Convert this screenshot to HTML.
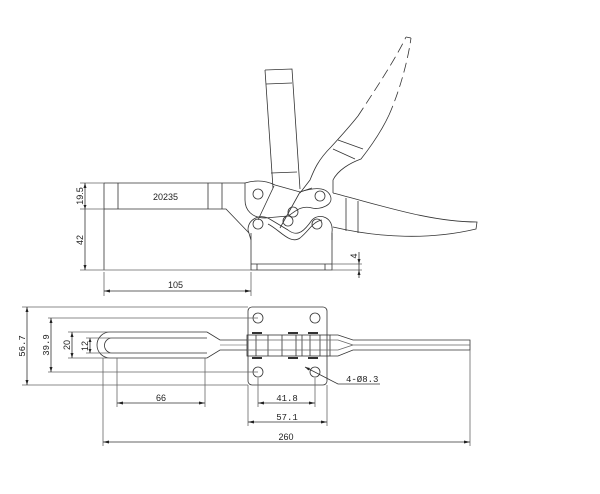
<!DOCTYPE html>
<html><head><meta charset="utf-8"><style>
html,body{margin:0;padding:0;background:#fff;}
svg{display:block;}
text{font-family:"Liberation Sans",sans-serif;font-size:9px;fill:#222;}
.m{font-family:"Liberation Mono",monospace;}
</style></head><body>
<svg width="600" height="494" viewBox="0 0 600 494" xmlns="http://www.w3.org/2000/svg">
<g fill="none" stroke="#333" stroke-width="0.8">
<!-- ===== TOP (side) VIEW ===== -->
<path d="M104 183 L245 183"/>
<path d="M104 183 L104 270"/>
<path d="M104 209 L226 209 L249 233"/>
<path d="M118 183 L118 209 M208 183 L208 209 M222 183 L222 209"/>
<path d="M251 233 L251 270 L332 270 L332 233"/>
<path d="M251 264 L332 264 M257 264 L257 270 M325 264 L325 270"/>
<!-- vertical handle -->
<path d="M265 70 L292 69 L300 189 M265 70 L273 188"/>
<path d="M266 84 L292 83 M271 173 L297 172"/>
<!-- curved handle -->
<path d="M300 193 L310 180 C314 170 318 160 331 147 C342 135 350 126 358 116"/>
<path d="M358 116 C375 90 395 60 406 37" stroke-dasharray="10 5"/>
<path d="M333 193 L333 180 C338 170 350 163 361 159 C372 145 382 130 389 115"/>
<path d="M389 115 C400 90 408 60 411 38" stroke-dasharray="10 5"/>
<path d="M406 37 L411 38"/>
<path d="M338 140 L363 149 M333 149 L355 159"/>
<!-- lower horizontal handle -->
<path d="M333 193 C380 205 430 222 477 222 L476 229 C430 240 380 238 333 227"/>
<path d="M346 198 L346 231 M358 201 L358 233"/>
<!-- upper link -->
<path d="M245 183 C255 180 265 180 275 185 L300 192 C312 188 325 186 330 195 C335 205 320 210 312 208 C300 205 295 212 288 216 L265 218 C252 218 245 210 245 200 Z"/>
<path d="M300 192 L312 188"/>
<!-- lower link -->
<path d="M248 230 C248 220 258 214 268 218 L288 230 C298 238 305 230 312 220 C320 212 334 218 332 232 L332 240 M248 230 L251 240"/>
<path d="M268 224 C280 230 290 245 300 238 C310 230 312 222 322 220"/>
<path d="M274 186 L258 220 M300 192 L280 228"/>
<circle cx="258" cy="194" r="5"/>
<circle cx="320" cy="196" r="5"/>
<circle cx="258" cy="224" r="5"/>
<circle cx="317" cy="224" r="5"/>
<circle cx="293" cy="212" r="5"/>
<circle cx="288" cy="221" r="5"/>
<!-- dims top -->
<path d="M80 183 L104 183 M80 209 L104 209 M80 270 L251 270" stroke="#666"/>
<path d="M85 183 L85 270"/>
<path d="M104 272 L104 296 M251 272 L251 296" stroke="#666"/>
<path d="M104 291 L251 291"/>
<path d="M332 264 L362 264 M332 270 L362 270" stroke="#666"/>
<path d="M359 252 L359 278"/>

<!-- ===== BOTTOM VIEW ===== -->
<rect x="248" y="307" width="79" height="78" rx="4"/>
<circle cx="258" cy="318" r="5"/>
<circle cx="315" cy="318" r="5"/>
<circle cx="258" cy="372" r="5"/>
<circle cx="315" cy="372" r="5"/>
<path d="M207 332 L110 332 A13 13 0 0 0 110 358 L207 358 L220 350 L247 350"/>
<path d="M207 338 L112 338 A7.5 7.5 0 0 0 112 353 L207 353"/>
<path d="M207 332 L220 340 L247 340"/>
<path d="M220 345 L247 345" stroke="#888"/>
<rect x="247" y="335" width="83" height="21"/>
<path d="M256 335 L256 356 M268 335 L268 356 M282 335 L282 356 M296 335 L296 356 M302 335 L302 356 M310 335 L310 356 M320 335 L320 356"/>
<path d="M247 340 L330 340 M247 350 L330 350" stroke="#666"/>
<path d="M252 333 L262 333 M288 333 L298 333 M308 333 L318 333 M252 358 L262 358 M288 358 L298 358 M308 358 L318 358" stroke-width="2"/>
<path d="M330 335 L338 335 L353 340 L470 340 L470 350 L353 350 L338 356 L330 356"/>
<path d="M330 340 L338 340 L353 345 L470 345 M330 350 L338 350 L353 345" stroke="#666"/>
<g stroke="#666">
<path d="M22 307 L248 307 M22 385 L248 385"/>
<path d="M48 318 L258 318 M48 372 L258 372"/>
<path d="M68 332 L110 332 M68 358 L110 358"/>
<path d="M86 338 L112 338 M86 353 L112 353"/>
<path d="M117 358 L117 407 M205 358 L205 407"/>
<path d="M258 378 L258 407 M315 378 L315 407"/>
<path d="M248 385 L248 426 M327 385 L327 426"/>
<path d="M103 358 L103 446 M470 350 L470 446"/>
</g>
<path d="M27 307 L27 385 M51 318 L51 372 M72 332 L72 358 M90 338 L90 353"/>
<path d="M117 403 L205 403 M258 403 L315 403 M248 422 L327 422 M103 442 L470 442"/>
<path d="M305 367 L338 384 L380 384"/>
</g>
<g fill="#222">
<path d="M104 291 l6 -1.5 v3z M251 291 l-6 -1.5 v3z"/>
<path d="M117 403 l6 -1.5 v3z M205 403 l-6 -1.5 v3z"/>
<path d="M258 403 l6 -1.5 v3z M315 403 l-6 -1.5 v3z"/>
<path d="M248 422 l6 -1.5 v3z M327 422 l-6 -1.5 v3z"/>
<path d="M103 442 l6 -1.5 v3z M470 442 l-6 -1.5 v3z"/>
<path d="M85 183 l-1.5 5 h3z M85 270 l-1.5 -5 h3z M85 209 l-1.5 -4 h3z"/>
<path d="M359 264 l-1.5 -5 h3z M359 270 l-1.5 5 h3z"/>
<path d="M27 307 l-1.5 5 h3z M27 385 l-1.5 -5 h3z"/>
<path d="M51 318 l-1.5 5 h3z M51 372 l-1.5 -5 h3z"/>
<path d="M72 332 l-1.5 5 h3z M72 358 l-1.5 -5 h3z"/>
<path d="M90 338 l-1.5 4 h3z M90 353 l-1.5 -4 h3z"/>
<path d="M305 367 l5 1 l-1.5 2.5z"/>
</g>
<text x="153" y="200">20235</text>
<text x="168" y="288">105</text>
<text transform="translate(83 196) rotate(-90)" text-anchor="middle">19.5</text>
<text transform="translate(83 240) rotate(-90)" text-anchor="middle">42</text>
<text transform="translate(357 256) rotate(-90)" text-anchor="middle">4</text>
<text transform="translate(25 346) rotate(-90)" text-anchor="middle" class="m">56.7</text>
<text transform="translate(49 345) rotate(-90)" text-anchor="middle" class="m">39.9</text>
<text transform="translate(70 345) rotate(-90)" text-anchor="middle">20</text>
<text transform="translate(88 346) rotate(-90)" text-anchor="middle">12</text>
<text x="161" y="401" text-anchor="middle">66</text>
<text x="287" y="401" text-anchor="middle" class="m">41.8</text>
<text x="287" y="420" text-anchor="middle" class="m">57.1</text>
<text x="286" y="440" text-anchor="middle">260</text>
<text x="346" y="382" class="m">4-Ø8.3</text>
</svg>
</body></html>
